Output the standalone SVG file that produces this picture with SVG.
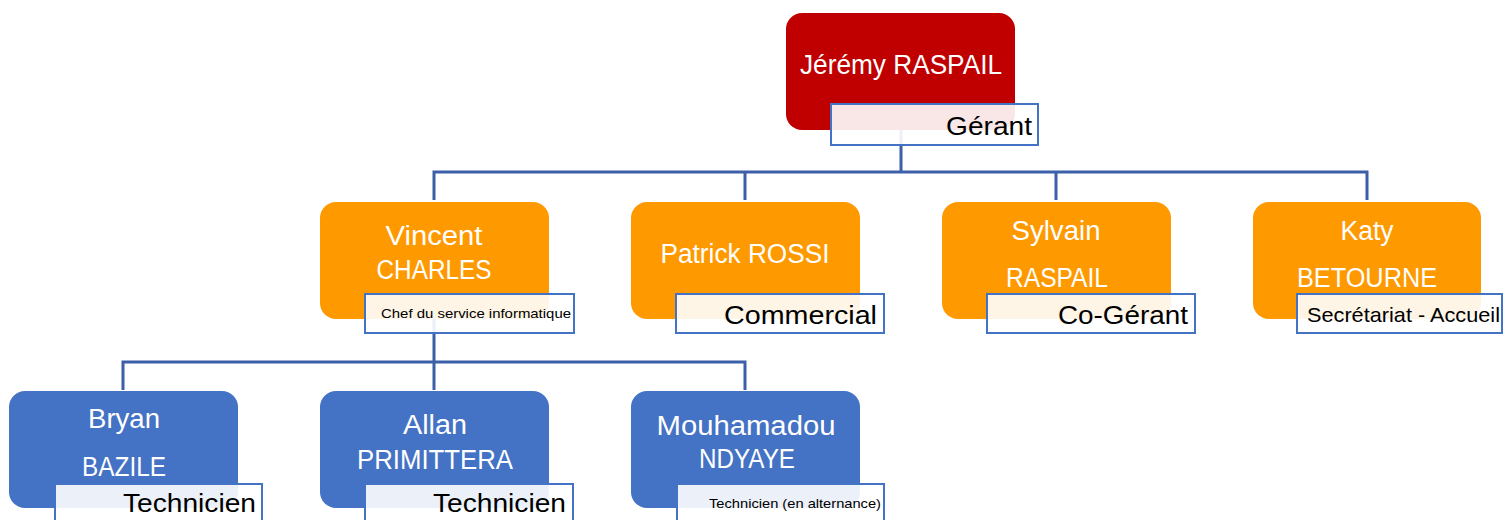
<svg xmlns="http://www.w3.org/2000/svg" width="1504" height="520" viewBox="0 0 1504 520">
<style>
.red{fill:#C00000}
.org{fill:#FF9900}
.blu{fill:#4472C4}
.lab{fill:#FFFFFF;fill-opacity:0.9;stroke:#4472C4;stroke-width:2}
.nm{font-family:"Liberation Sans",Arial,sans-serif;fill:#FFFFFF;text-anchor:middle}
.t{font-family:"Liberation Sans",Arial,sans-serif;fill:#000000}
.con{fill:none;stroke:#3B5FA8;stroke-width:3}
</style>
<rect width="1504" height="520" fill="#FFFFFF"/>
<g id="connectors" class="con">
<path d="M901 128 V172 M434 200 V172 H1367 V200 M745 172 V200 M1056 172 V200"/>
<path d="M434 316 V362 M123 390 V362 H745 V390 M434 362 V390"/>
</g>
<g id="n-jeremy">
<rect class="red" x="786" y="13" width="229" height="117" rx="16"/>
<text class="nm" x="901" y="74" font-size="28" textLength="202" lengthAdjust="spacingAndGlyphs">Jérémy RASPAIL</text>
<rect class="lab" x="831" y="104" width="207" height="41"/>
<text class="t" x="1032" y="135" font-size="25" text-anchor="end" textLength="86" lengthAdjust="spacingAndGlyphs">Gérant</text>
</g>
<g id="n-vincent">
<rect class="org" x="320" y="202" width="229" height="117" rx="16"/>
<text class="nm" x="434" y="245" font-size="27" textLength="97" lengthAdjust="spacingAndGlyphs">Vincent</text>
<text class="nm" x="434" y="279" font-size="27" textLength="115" lengthAdjust="spacingAndGlyphs">CHARLES</text>
<rect class="lab" x="365" y="294" width="209" height="39"/>
<text class="t" x="381" y="318" font-size="13" textLength="190" lengthAdjust="spacingAndGlyphs">Chef du service informatique</text>
</g>
<g id="n-patrick">
<rect class="org" x="631" y="202" width="229" height="117" rx="16"/>
<text class="nm" x="745" y="263" font-size="27" textLength="169" lengthAdjust="spacingAndGlyphs">Patrick ROSSI</text>
<rect class="lab" x="676" y="294" width="208" height="39"/>
<text class="t" x="877" y="324" font-size="26" text-anchor="end" textLength="153" lengthAdjust="spacingAndGlyphs">Commercial</text>
</g>
<g id="n-sylvain">
<rect class="org" x="942" y="202" width="229" height="117" rx="16"/>
<text class="nm" x="1056" y="240" font-size="27" textLength="89" lengthAdjust="spacingAndGlyphs">Sylvain</text>
<text class="nm" x="1057" y="287" font-size="27" textLength="102" lengthAdjust="spacingAndGlyphs">RASPAIL</text>
<rect class="lab" x="987" y="294" width="208" height="39"/>
<text class="t" x="1188" y="324" font-size="26" text-anchor="end" textLength="130" lengthAdjust="spacingAndGlyphs">Co-Gérant</text>
</g>
<g id="n-katy">
<rect class="org" x="1253" y="202" width="228" height="117" rx="16"/>
<text class="nm" x="1367" y="240" font-size="27" textLength="53" lengthAdjust="spacingAndGlyphs">Katy</text>
<text class="nm" x="1367" y="287" font-size="27" textLength="140" lengthAdjust="spacingAndGlyphs">BETOURNE</text>
<rect class="lab" x="1297" y="294" width="205" height="39"/>
<text class="t" x="1307" y="322" font-size="21" textLength="193" lengthAdjust="spacingAndGlyphs">Secrétariat - Accueil</text>
</g>
<g id="n-bryan">
<rect class="blu" x="9" y="391" width="229" height="117" rx="16"/>
<text class="nm" x="124" y="428" font-size="27" textLength="72" lengthAdjust="spacingAndGlyphs">Bryan</text>
<text class="nm" x="124" y="476" font-size="27" textLength="84" lengthAdjust="spacingAndGlyphs">BAZILE</text>
<rect class="lab" x="55" y="484" width="207" height="40"/>
<text class="t" x="256" y="512" font-size="26" text-anchor="end" textLength="133" lengthAdjust="spacingAndGlyphs">Technicien</text>
</g>
<g id="n-allan">
<rect class="blu" x="320" y="391" width="229" height="117" rx="16"/>
<text class="nm" x="435" y="434" font-size="27" textLength="64" lengthAdjust="spacingAndGlyphs">Allan</text>
<text class="nm" x="435" y="469" font-size="27" textLength="156" lengthAdjust="spacingAndGlyphs">PRIMITTERA</text>
<rect class="lab" x="365" y="484" width="208" height="40"/>
<text class="t" x="566" y="512" font-size="26" text-anchor="end" textLength="133" lengthAdjust="spacingAndGlyphs">Technicien</text>
</g>
<g id="n-mouhamadou">
<rect class="blu" x="631" y="391" width="229" height="117" rx="16"/>
<text class="nm" x="746" y="435" font-size="27" textLength="179" lengthAdjust="spacingAndGlyphs">Mouhamadou</text>
<text class="nm" x="747" y="468" font-size="27" textLength="96" lengthAdjust="spacingAndGlyphs">NDYAYE</text>
<rect class="lab" x="677" y="484" width="207" height="40"/>
<text class="t" x="881" y="508" font-size="13" text-anchor="end" textLength="172" lengthAdjust="spacingAndGlyphs">Technicien (en alternance)</text>
</g>
</svg>
